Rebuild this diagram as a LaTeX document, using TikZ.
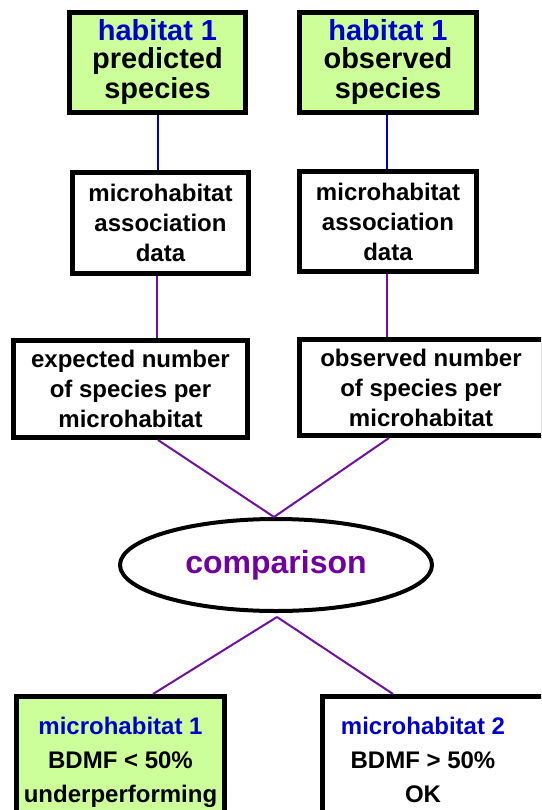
\documentclass[tikz,border=0pt]{standalone}
\usepackage{fontspec}
\setmainfont{Liberation Sans}
\usetikzlibrary{shapes.geometric}
\definecolor{boxgreen}{RGB}{204,255,153}
\definecolor{txtblue}{RGB}{0,0,204}
\definecolor{linepurple}{RGB}{112,16,160}
\definecolor{txtpurple}{RGB}{112,0,160}
\tikzset{
  box/.style={draw=black, line width=5pt, rectangle, inner sep=0pt, align=center},
  greenbox/.style={box, fill=boxgreen},
  whitebox/.style={box, fill=white},
  bigfont/.style={font=\bfseries\fontsize{29}{30}\selectfont},
  midfont/.style={font=\bfseries\fontsize{24}{30}\selectfont},
  lowfont/.style={font=\bfseries\fontsize{24}{34}\selectfont},
  bluelink/.style={draw=txtblue, line width=2pt},
  purplelink/.style={draw=linepurple, line width=2pt},
}
\begin{document}
\begin{tikzpicture}[x=1pt,y=-1pt]
\useasboundingbox[fill=white] (0,0) rectangle (541,810);
\clip (0,0) rectangle (541,810);

% top boxes
\node[greenbox, bigfont, minimum width=176pt, minimum height=100pt] (b1) at (157.5,62.5)
  {\textcolor{txtblue}{habitat 1}\\[-2pt] predicted\\[0pt] species};
\node[greenbox, bigfont, minimum width=177pt, minimum height=100pt] (b2) at (388,62.5)
  {\textcolor{txtblue}{habitat 1}\\[-2pt] observed\\[0pt] species};

% association boxes
\node[whitebox, midfont, minimum width=176pt, minimum height=101pt] (b3) at (160.5,223)
  {microhabitat\\ association\\ data};
\node[whitebox, midfont, minimum width=177pt, minimum height=100pt] (b4) at (388,221.5)
  {microhabitat\\ association\\ data};

% number boxes
\node[whitebox, midfont, minimum width=234pt, minimum height=97pt] (b5) at (130.5,389)
  {expected number\\ of species per\\ microhabitat};
\node[whitebox, midfont, minimum width=244pt, minimum height=96pt] (b6) at (421,387.5)
  {observed number\\ of species per\\ microhabitat};

% comparison
\node[draw=black, line width=4pt, ellipse, fill=white, minimum width=312pt, minimum height=92pt, inner sep=0pt,
      font=\bfseries\fontsize{32}{36}\selectfont, text=txtpurple] (cmp) at (276,565) {comparison};

% result boxes
\node[greenbox, lowfont, minimum width=208pt, minimum height=131pt] (r1) at (120.5,762)
  {\textcolor{txtblue}{microhabitat 1}\\ BDMF < 50\%\\ underperforming};
\node[whitebox, minimum width=230pt, minimum height=131pt] (r2) at (437.5,762) {};
\node[align=center, inner sep=0pt, lowfont] (r2t) at (423,760)
  {\textcolor{txtblue}{microhabitat 2}\\ BDMF > 50\%\\ OK};

% connectors
\coordinate (c1) at (158,0);
\coordinate (c2) at (387,0);
\path[bluelink] (b1.south -| c1) -- (b3.north -| c1);
\path[bluelink] (b2.south -| c2) -- (b4.north -| c2);
\coordinate (c3) at (157,0);
\path[purplelink] (b3.south -| c3) -- (b5.north -| c3);
\path[purplelink] (b4.south -| c2) -- (b6.north -| c2);
\coordinate (c4) at (389,0);
\coordinate (top) at (274,517);
\coordinate (bot) at (277,617);
\path[purplelink] (b5.south -| c1) -- (top);
\path[purplelink] (b6.south -| c4) -- (top);
\coordinate (c5) at (153,0);
\coordinate (c6) at (393,0);
\path[purplelink] (bot) -- (r1.north -| c5);
\path[purplelink] (bot) -- (r2.north -| c6);
\end{tikzpicture}
\end{document}
